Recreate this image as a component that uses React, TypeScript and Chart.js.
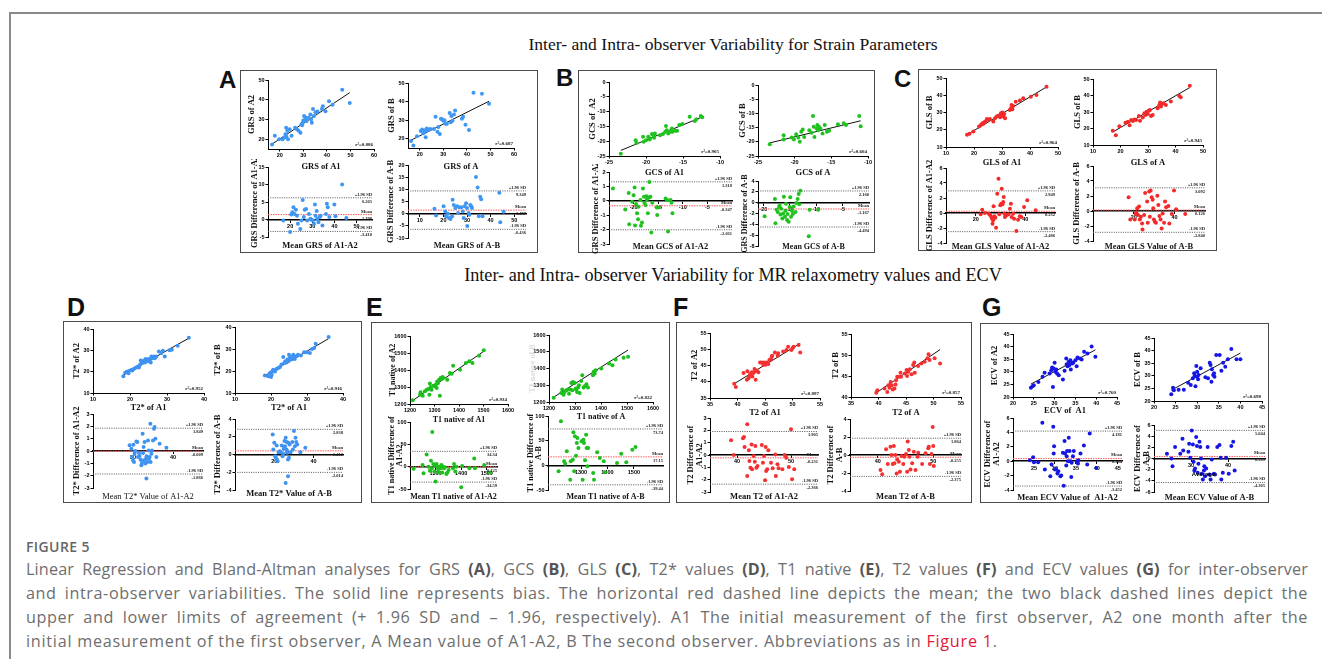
import React, { useEffect, useRef } from "react";
import { Chart, registerables } from "chart.js";
Chart.register(...registerables);

// ---------------- DATA ----------------
// Panel A – GRS
const grsA1A2 = [[16.7,17.3],[17.9,21.7],[19.7,20],[21.2,20],[22,20.8],[22.4,22.5],[22.7,25.8],[23.5,20],[23.2,24.2],[24.2,25],[25,21.7],[26.5,25.8],[27.3,25],[28,24.2],[28.8,23.3],[29.2,27.5],[29.8,28.3],[30.3,31.7],[30.8,30],[31.4,29.2],[32.3,30.8],[33,32.5],[33.3,30],[33.6,28.3],[34.1,35.3],[34.5,31.7],[35.2,33.7],[37.9,35.3],[38.3,36.7],[39.4,34.2],[40.9,39.2],[42.4,37.5],[46.5,45],[49.7,38.3],[29.5,27],[30,29.5],[31,31],[22.8,21.2],[36,34]];
const grsA1A2Fit = [0.79, 4.31];
const grsAB = [[16.3,18.8],[17.3,16.3],[18.8,21.3],[20.4,24.2],[21,25],[21.5,23],[22.2,23.8],[22.5,20.8],[23,25.5],[23.7,24.7],[24.5,25.2],[26,25.2],[26.7,31.8],[27.5,23.8],[27.9,26.3],[28.5,22.5],[29.4,30.5],[30,29.7],[30.9,28],[31.5,28],[32.7,33.8],[33.1,28.8],[33.4,32.2],[33.9,29.7],[34.5,33],[35,35.2],[37.9,30.8],[38.4,31.8],[39.4,27.5],[40.9,24.7],[42.8,44.7],[46.4,44.2],[49.4,38.8],[22.3,24.5],[29,30.8],[30.5,30]];
const grsABFit = [0.634, 8.87];
const grsBA1 = [[16.9,-0.3],[20,-3.6],[20.5,1.4],[21,2.1],[21.5,3.5],[22,1.6],[22.6,2.8],[23.1,1.1],[23.5,-1.2],[24.6,-2.7],[25.1,-0.3],[25.7,5.6],[26.2,0.7],[26.6,2.8],[27.2,3],[27.7,-0.3],[28.5,1.6],[29.2,0.2],[29.7,-0.1],[30.3,-0.3],[30.8,-1.2],[31.2,4.3],[31.5,1.1],[32,2.4],[32.3,0.2],[32.8,-0.8],[33.4,0.7],[33.8,1.1],[34.6,-1.7],[36.2,1.6],[36.6,4.5],[37,3.5],[37.7,0.7],[40,4.3],[40.5,0.9],[43.5,10],[45.4,0.4]];
const grsBA1Lim = ["6.205", "1.398", "-3.410"];
const grsBA2 = [[16.2,2],[16.9,-0.8],[20.1,3],[20.8,0.9],[21.1,-1.1],[22,0],[22.3,-1.8],[23,-2.2],[23.7,-1.1],[23.9,5.7],[24.4,3.6],[25.1,2.3],[25.8,3],[26.2,0.3],[26.8,2.6],[27.6,2.6],[28.2,0.9],[28.6,-1.8],[29,3],[29.6,4.3],[30,2.3],[30.1,-5.1],[30.7,0.3],[31,-0.4],[31.4,3.6],[31.8,3],[32.1,2.3],[33.8,15.1],[34.5,10.8],[35,-1.1],[35.6,7],[36,5.9],[36.6,-1.1],[43.7,8.6],[44.1,-3.5],[45.5,0.8]];
const grsBA2Lim = ["9.349", "1.457", "-6.436"];

// Panel B – GCS
const gcsA1A2 = [[-23.4,-24.2],[-21.4,-19.7],[-21.3,-20.6],[-20.4,-18.5],[-20.3,-20.2],[-20,-19.7],[-19.7,-18.5],[-19.5,-19.1],[-19.5,-19.4],[-19.2,-17.6],[-19,-18],[-18.9,-18.8],[-18.8,-17.4],[-18.1,-18],[-17.7,-17.6],[-17.4,-16.8],[-17.3,-14.9],[-17.2,-16.3],[-17,-17.4],[-16.7,-16.8],[-16.6,-16.3],[-16.5,-15.7],[-16.4,-16.8],[-16,-16.5],[-15.8,-16.5],[-15.5,-14.5],[-15.1,-14.2],[-14.1,-11.7],[-13.4,-13.2],[-13.2,-12.6],[-12.6,-11.5],[-12.4,-11.9]];
const gcsA1A2Fit = [1.027, 0.93];
const gcsAB = [[-23.4,-20.9],[-21.5,-17.7],[-21.5,-19.2],[-20.4,-18.5],[-20.1,-19.2],[-19.8,-17.3],[-19.5,-18.5],[-19.3,-20],[-19.1,-16.5],[-18.9,-15.7],[-18.7,-18.3],[-18,-15.9],[-17.7,-16.8],[-17.5,-10.9],[-17.4,-14.7],[-17.3,-18.3],[-17,-15.3],[-16.9,-14.1],[-16.8,-15.9],[-16.7,-14.7],[-16.5,-15.3],[-16.2,-17.1],[-15.9,-14.1],[-15.6,-16.5],[-15.3,-16.1],[-14.1,-13.8],[-13.3,-13.5],[-13,-14.1],[-11.2,-10.9],[-11,-14.5]];
const gcsABFit = [0.629, -5.68];
const gcsBA1 = [[-24.2,0.85],[-21.7,-0.6],[-21,0.55],[-20.9,-1.63],[-20.3,-0.07],[-20,0.39],[-19.8,0.92],[-19.7,-1.72],[-19.5,-0.23],[-19.3,-0.87],[-19.1,-1.28],[-19,-0.41],[-18.6,0.05],[-18.5,-1.74],[-18.3,-1.51],[-18.1,0.85],[-17.9,0.28],[-17.8,-0.14],[-17.6,-0.3],[-17.4,0.32],[-17.3,0.09],[-17.1,-0.87],[-16.9,0.23],[-16.8,1.31],[-16.6,0.28],[-16.4,-2.2],[-16.2,-0.14],[-15.3,-0.46],[-15.2,-0.99],[-14.9,-0.46],[-13.5,0.16],[-13.2,0.05],[-13,-2.13],[-12.5,0.05],[-12.3,-0.14],[-12.1,-0.87]];
const gcsBA1Lim = ["1.318", "-0.347", "-2.011"];
const gcsBA2 = [[-19.75,-2.5],[-17.8,0.7],[-17.7,-3.8],[-17.5,-1.3],[-17.25,-1.7],[-17,-0.8],[-16.9,-0.5],[-16.75,-2.2],[-16.6,-1.1],[-16.4,-2.9],[-16.25,-2],[-16.1,1.1],[-15.9,-2.6],[-15.8,-1.5],[-15.7,-0.2],[-15.5,-3.2],[-15.4,-2.1],[-15.2,-3.5],[-15,-0.8],[-14.9,1],[-14.75,-2.6],[-14.6,-1.5],[-14.4,-2.1],[-14.25,-0.7],[-13.9,-1.7],[-13.75,-0.06],[-13.5,0.7],[-13.3,1.6],[-13.2,-0.3],[-13,2.2],[-11.4,-6.2],[-11.25,-1.3],[-9.6,-1.3]];
const gcsBA2Lim = ["2.160", "-1.167", "-4.494"];

// Panel C – GLS
const glsA1A2 = [[17.5,17.1],[18.4,17.7],[19.8,19],[21.8,21.9],[22.5,22.9],[23,23.8],[23.4,23.5],[23.7,24.2],[24,24.8],[24.6,26.2],[25.1,25.8],[25.7,26.2],[26.9,24.8],[27.5,26.7],[28.1,27.7],[28.7,28.1],[29.3,27.3],[29.6,29.6],[29.9,28.7],[30.2,30],[30.5,27.7],[30.8,29.2],[31.1,26.7],[32.8,31.5],[33.2,32.5],[33.4,34.4],[33.7,31.9],[34,33.8],[34.9,36.3],[36.4,36.9],[37.6,38.3],[40.3,39.2],[42.3,40.2],[45.9,45]];
const glsA1A2Fit = [0.976, 0.02];
const glsAB = [[17.2,18.6],[18.3,15.9],[19.6,21.4],[21.8,23.5],[22.7,24.1],[23.3,22],[23.9,25.1],[24.5,24.5],[25.1,25.5],[25.7,25.1],[26.7,27.6],[27.1,24.7],[28.1,26.7],[28.7,29.2],[29,28.2],[29.5,30.2],[29.9,28.8],[30.3,30.8],[30.7,31.2],[31.1,27.6],[31.7,28.2],[33.5,32.2],[34.1,34.3],[34.4,35.7],[34.7,33.3],[35.1,34.9],[35.6,35.3],[36.5,34.3],[38.3,36.3],[41.3,39.8],[41.9,39],[45.2,45.9]];
const glsABFit = [0.961, 1.37];
const glsBA1 = [[22,-0.18],[22.6,0.44],[23.7,0],[25.3,-0.09],[25.9,-0.31],[26.3,-0.53],[26.6,-0.76],[26.8,-1.42],[27,-0.98],[27.2,0.89],[27.6,-0.44],[27.9,-0.62],[28.2,-1.96],[28.7,2.58],[29.2,4.58],[29.5,-0.18],[29.9,1.02],[30.3,1.24],[30.5,3.24],[30.8,1.16],[31.1,1.47],[31.3,2.13],[31.6,-0.09],[31.8,-0.53],[32.4,-0.31],[33.2,-0.18],[33.8,0.58],[34.2,1.24],[34.5,-0.53],[35.1,-0.09],[35.5,-0.76],[36.4,-2.4],[37.1,-0.89],[37.8,-0.44],[38.4,-0.53],[39.5,0.8],[40.8,1.69],[44.2,0.36]];
const glsBA1Lim = ["2.949", "0.232", "-2.486"];
const glsBA2 = [[17.5,1.85],[18.3,-1.13],[20.5,-1.13],[21,-0.4],[21.3,-0.23],[21.7,0.36],[22.1,-0.54],[22.6,0.59],[23,-1.13],[23.5,-0.77],[24.1,-1.67],[24.3,-2.48],[25.1,-0.54],[25.6,2.39],[26.6,1.26],[26.9,-1.58],[27.6,2.6],[27.9,-0.77],[28.3,2.75],[28.8,1.85],[29.3,1.49],[29.6,0.36],[29.9,-1.13],[30.4,-1.44],[30.9,-1.58],[31.6,2.03],[32.1,0.81],[32.6,-0.68],[33.2,-1.13],[33.7,-2.34],[34.2,-0.32],[34.9,-1.58],[35.4,1.26],[35.9,0.5],[37,0.68],[37.5,-1.67],[38.7,-0.4],[39.8,2.75],[40.8,0.23],[45.3,-0.4]];
const glsBA2Lim = ["3.092", "0.126", "-2.840"];

// Panel D – T2*
const t2sA1A2 = [[18.2,17.9],[18.7,19.5],[19.1,20],[19.6,19.2],[19.7,20.3],[20.3,20.8],[20.6,20.5],[20.9,21.1],[21.3,21.6],[21.8,22.1],[22.2,22.4],[22.4,21.9],[22.7,23.2],[22.9,25.2],[23.1,24],[23.4,24.3],[23.6,24.8],[23.8,25.2],[24,24.3],[24.2,25.9],[24.5,24.8],[24.7,25.6],[25.1,25.9],[25.4,24.8],[25.6,24.3],[25.8,27.1],[26,26.3],[26.3,26.8],[26.5,27.1],[26.7,26.3],[27.1,27.1],[27.8,29.5],[28.5,28.7],[28.9,29.8],[29.4,27.1],[30.7,30],[31.3,30.3],[32.9,32.2],[35.9,35.9]];
const t2sA1A2Fit = [0.978, 0.6];
const t2sAB = [[18.3,17.9],[19.2,17.6],[19.7,19.1],[20,17.3],[20.2,18.3],[20.3,19.8],[20.6,20.6],[21.1,19.8],[21.5,20.9],[22,21.4],[22.5,21.8],[22.9,22.9],[23.4,26.4],[23.7,23.6],[24,24.4],[24.3,23.9],[24.6,25.2],[24.8,24.4],[25,27.4],[25.2,25.9],[25.5,25.2],[25.7,26.4],[25.9,25.5],[26.2,27.4],[26.4,26.7],[26.6,25.5],[27.1,26.7],[27.5,27.4],[28.3,27],[29.2,28.5],[29.9,28.5],[30.8,28.2],[31.4,30],[32,30.5],[32.4,32.4],[36,35.5]];
const t2sABFit = [0.95, 0.51];
const t2sBA1 = [[18.3,0.46],[19.2,0.19],[19.5,-0.48],[20,-0.75],[20.2,0.51],[20.5,-0.89],[20.8,-0.22],[21.2,0],[21.7,0.78],[22.2,0.73],[22.5,-0.48],[23,-0.16],[23.3,-0.4],[23.8,-0.7],[24.2,-1.16],[24.5,-0.97],[24.8,1.4],[25,-0.16],[25.3,0.32],[25.5,-0.75],[25.8,0.73],[26.2,-1.02],[26.5,-0.62],[26.7,-2.23],[26.8,-0.43],[27.2,-0.89],[27.5,0.86],[27.8,0.05],[28,-0.62],[28.3,-0.48],[28.7,2.2],[28.8,-0.89],[29.2,-0.22],[29.5,0.05],[30,0.86],[30.5,1.8],[30.8,1.94],[31.2,0.99],[31.7,-0.48],[33.3,0.59],[36.7,0.27]];
const t2sBA1Lim = ["1.849", "-0.009", "-1.866"];
const t2sBA2 = [[19.2,2.26],[19.5,0.57],[20,1.32],[20.5,-0.19],[20.8,-0.38],[21.2,1.02],[21.3,-0.57],[21.7,-0.75],[22.2,0.26],[22.8,0.38],[23.3,0.26],[23.8,1.02],[24.2,-0.19],[24.5,0.11],[24.8,0.64],[25.2,1.51],[25.5,0.94],[25.8,1.89],[26.2,0.57],[26.3,1.4],[26.5,0.19],[26.7,0.38],[27,-0.57],[27.2,1.32],[27.5,-0.38],[27.8,1.13],[28.3,0.26],[29.2,1.4],[29.5,0.57],[30,2.64],[30.5,0.94],[30.8,1.89],[31.2,1.4],[31.7,1.13],[33.3,0.26],[35.8,0.75],[25.8,-3.2],[27,-2.45]];
const t2sBA2Lim = ["2.838", "0.412", "-2.014"];

// Panel E – T1 native
const t1A1A2 = [[1211,1222],[1241,1255],[1243,1269],[1252,1249],[1261,1275],[1268,1284],[1275,1288],[1279,1255],[1281,1320],[1284,1300],[1288,1284],[1295,1308],[1302,1304],[1306,1314],[1309,1294],[1311,1333],[1315,1324],[1319,1343],[1322,1249],[1325,1353],[1329,1347],[1333,1359],[1336,1353],[1352,1343],[1363,1382],[1370,1378],[1376,1425],[1404,1402],[1428,1441],[1442,1451],[1455,1441],[1482,1484],[1501,1516]];
const t1A1A2Fit = [1.0, 9];
const t1AB = [[1218,1226],[1247,1254],[1251,1274],[1256,1244],[1260,1260],[1267,1270],[1273,1274],[1277,1250],[1282,1274],[1286,1314],[1290,1270],[1292,1320],[1299,1314],[1303,1280],[1305,1274],[1308,1260],[1312,1286],[1315,1300],[1318,1254],[1324,1326],[1328,1360],[1333,1286],[1337,1294],[1344,1306],[1350,1286],[1369,1360],[1372,1380],[1376,1370],[1379,1390],[1401,1400],[1431,1430],[1444,1420],[1456,1454],[1487,1464],[1504,1470]];
const t1ABFit = [0.983, 31.7];
const t1BA1 = [[1214,-4.4],[1249,3.7],[1253,-14.8],[1265,27.4],[1272,0],[1278,-8.9],[1282,13.3],[1285,-3.7],[1287,77.8],[1291,5.9],[1295,-11.1],[1297,3.7],[1300,-33.3],[1304,5.9],[1308,0],[1310,-5.9],[1313,-13.3],[1317,0],[1320,-3.7],[1323,3.7],[1326,-13.3],[1329,0],[1333,-3.7],[1336,-1.5],[1342,-16.3],[1346,-13.3],[1351,-7.4],[1368,-3.7],[1372,5.9],[1377,-11.1],[1381,0],[1400,-45.9],[1404,1.5],[1432,-3.7],[1451,18.5],[1454,-3.7],[1490,3.7],[1513,-13.3]];
const t1BA1Lim = ["34.34", "-0.125", "-34.59"];
const t1BA2 = [[1215,-12.2],[1224,89.2],[1236,8.1],[1240,3.4],[1246,28.4],[1259,-29.1],[1261,8.1],[1269,11.5],[1271,66.9],[1274,-12.2],[1277,58.8],[1281,19.6],[1284,45.3],[1286,55.4],[1290,35.1],[1302,48.6],[1306,-29.1],[1309,52],[1311,45.3],[1315,10.1],[1319,62.2],[1321,35.1],[1324,-2],[1327,35.1],[1346,-15.5],[1349,-29.1],[1361,26.4],[1371,14.9],[1386,8.1],[1390,-14.2],[1436,4.7],[1452,23.6],[1471,6.1],[1494,31.8],[1506,37.2]];
const t1BA2Lim = ["73.74", "17.15", "-39.44"];

// Panel F – T2
const t2A1A2 = [[39.4,39.4],[39.7,38.4],[41.1,42.7],[41.7,40.6],[41.8,43.2],[42,41.1],[42.1,41.6],[42.3,42.4],[42.6,42.9],[42.7,41.6],[42.9,42.7],[43.1,43.9],[43.2,43.2],[43.3,40.6],[43.5,43.5],[43.8,42.9],[44.1,45.9],[44.4,45.9],[44.7,45.2],[44.9,45.9],[45.1,45.2],[45.3,45.9],[45.6,45.5],[45.8,46.7],[46.1,46.9],[46.2,47.6],[46.3,48],[46.8,49],[47.3,48],[47.4,48.8],[48.3,49.3],[48.9,49.8],[49.2,50.8],[49.8,49.8],[50,50.3],[50.2,50.8],[51.1,51.3],[51.4,49]];
const t2A1A2Fit = [1.033, -1.3];
const t2AB = [[39.6,41],[39.8,41.6],[41.1,42],[41.6,41.2],[41.8,42.8],[42,42.2],[42.2,43.6],[42.4,42.8],[42.6,41.8],[42.9,42],[43.1,43],[43.2,44],[43.4,44.8],[43.7,44.8],[44,45.8],[44.1,44.8],[44.8,45.6],[45.1,46.4],[45.2,45],[45.4,46],[45.7,46.6],[46,45.4],[46.3,47.6],[46.5,48.2],[46.6,45.8],[47.2,47.4],[47.8,48],[48.4,48.4],[48.9,49.2],[49.1,50.2],[49.3,48.8],[50.2,49.2],[51.2,48]];
const t2ABFit = [0.887, 5.88];
const t2BA1 = [[38.9,1.19],[39.4,0],[41.1,1.35],[41.3,1.46],[41.4,0.65],[41.9,2.49],[41.9,-1.7],[42.2,0.38],[42.3,-0.49],[42.5,-1.03],[42.7,0.86],[42.8,-1.16],[43.1,-0.08],[43.3,-0.54],[43.4,0.73],[43.6,-1.03],[43.8,-0.89],[44.6,0.81],[44.8,-0.62],[45,-0.08],[45.2,-2.05],[45.3,0.65],[45.4,-1.3],[45.6,-1.16],[45.8,0.38],[46.3,-0.62],[46.6,-1.08],[47.1,0.05],[47.2,-1.7],[47.5,-0.76],[47.7,-1.08],[48.4,-1.16],[48.8,0],[49.1,-0.22],[49.6,-0.97],[50,2.08],[50.2,-1.97],[50.6,-1.16]];
const t2BA1Lim = ["1.905", "-0.231", "-2.366"];
const t2BA2 = [[40.5,-1.68],[40.8,-2.13],[41.5,0.63],[41.8,-1.01],[42.3,0.93],[42.5,0],[42.7,-1.01],[42.9,1.01],[43,-0.93],[43.2,0],[43.4,-2.05],[43.5,-0.49],[43.8,-0.75],[44,-1.87],[44.3,-0.11],[44.6,-1.01],[44.8,-0.19],[45.1,0.11],[45.3,-1.87],[45.4,1.49],[45.6,0.56],[45.7,-0.19],[45.9,-1.6],[46.2,-0.93],[46.5,0.37],[46.8,-1.68],[47.2,-0.19],[47.3,0.26],[48,-1.01],[48.6,0.19],[49.1,0.75],[49.2,0.93],[49.4,-1.01],[49.7,0.11],[49.9,3.1],[50,1.01],[50.1,-1.23]];
const t2BA2Lim = ["1.864", "-0.255", "-2.375"];

// Panel G – ECV
const ecvA1A2 = [[24.3,23.7],[24.7,24.3],[25,24.7],[26.1,26],[27.1,28],[27.6,29.6],[28.8,29.3],[29.2,30.6],[29.4,31.7],[29.6,24],[29.8,31.3],[30,33.6],[30.2,30],[30.4,30.9],[30.6,29.3],[31,28.6],[32,26.9],[32.4,30.4],[32.8,35.3],[32.9,33],[33.1,32.2],[33.4,34],[33.5,32.6],[33.8,34.6],[33.9,30.9],[34.2,33.3],[34.5,33.6],[35,34.6],[35.3,32.2],[35.5,35.7],[36.1,35.3],[36.5,34.9],[37.1,38],[37.9,37.3],[38.9,40],[39.8,36]];
const ecvA1A2Fit = [0.877, 3.8];
const ecvAB = [[24,22.7],[24.4,25.3],[24.6,24.3],[25.7,24.5],[26.9,24.5],[27.9,27.2],[28.5,26.3],[29,29],[29.3,31],[29.4,29.9],[29.6,25.9],[29.8,33.9],[30,31.6],[30,29.6],[30.2,28.6],[30.3,30.3],[30.8,33],[31.9,29.4],[32.5,29],[32.9,35.2],[33.1,34.3],[33.3,27.6],[33.4,32.6],[33.7,30.3],[33.9,31],[34,29.6],[34.4,38.3],[35.2,38.3],[35.6,32],[36,35.2],[36.5,33.6],[37.1,36.6],[37.9,40.6],[39.1,36.6],[40,36.6]];
const ecvABFit = [0.919, 2.25];
const ecvBA1 = [[24,0.14],[24.8,0.56],[25,-0.14],[26,-0.14],[27,5.35],[27.6,-1.16],[28.9,-2.09],[29.2,-0.47],[29.6,4.79],[29.7,1.07],[29.8,2.09],[30,-1.16],[30.2,-1.07],[30.6,-1.72],[30.8,-1.4],[31.3,-2.09],[31.5,-2],[31.9,1.16],[32.1,-3.4],[32.3,2.79],[32.4,1.07],[32.7,-0.6],[32.8,0.7],[32.9,1.4],[33.1,0],[33.3,3.26],[33.5,1.4],[33.7,0],[33.9,-2.19],[34,-0.23],[34.3,0.7],[34.5,1.4],[35.3,0],[35.5,-0.33],[35.6,0.14],[36.1,1.07],[36.9,2.19],[37.7,-0.47],[38.3,3.86],[39.9,-0.93]];
const ecvBA1Lim = ["4.181", "0.364", "-3.452"];
const ecvBA2 = [[23.5,0.84],[24.7,0],[25,-1.38],[25.7,2.04],[27.1,0.84],[27.7,3.53],[27.9,1.44],[29.3,1.2],[29.5,2.63],[29.8,0.12],[30.2,5.03],[30.5,2.51],[30.7,-0.6],[30.9,-2.16],[31.1,-1.8],[31.4,3.83],[31.6,2.22],[31.8,-2.57],[32,-0.96],[32.3,2.99],[32.5,2.04],[32.7,0],[32.9,-2.75],[33.2,-3.77],[33.5,-2.16],[33.6,-1.38],[33.8,-3.17],[34.1,-1.8],[34.5,2.04],[35,-2.87],[35.3,-3.77],[35.6,-0.18],[36.2,-2.75],[36.5,-2.87],[37.1,2.04],[37.7,2.4],[38,0.12],[38.2,-3.77],[38.6,-2.57],[39.5,0.12],[40.2,-2.75],[40.9,2.22],[41.4,2.99],[41.8,-2.16]];
const ecvBA2Lim = ["5.044", "0.369", "-4.305"];
const ecvNote = [33.4, -2.75];

// ---------------- STYLE / LAYOUT ----------------
const SERIF = '"Liberation Serif", "Times New Roman", serif';
const SANS = '"Liberation Sans", Arial, sans-serif';
const C_A = "#3f97f2";
const C_B = "#1fc21f";
const C_C = "#f42a2a";
const C_D = "#3f92f0";
const C_E = "#1cc01c";
const C_F = "#f43030";
const C_G = "#1616e4";

type Spec = {
  id: string; kind: "reg" | "ba"; pts: number[][]; color: string;
  rect: number[]; xr: number[]; yr: number[]; xt: number[]; yt: number[];
  yTitle: string[]; yTitleX: number; xTitle: string; xTitleY: number;
  fit?: number[]; r2?: string; lim?: string[]; fs?: number; xWeight?: string;
  yTitleColor?: string; note?: number[];
};

const specs: Spec[] = [
  // A
  { id: "a1", kind: "reg", pts: grsA1A2, color: C_A, rect: [268, 80, 374, 149], xr: [15, 60], yr: [15, 50], xt: [20, 30, 40, 50, 60], yt: [20, 30, 40, 50], yTitle: ["GRS of A2"], yTitleX: 252, xTitle: "GRS of A1", xTitleY: 167, fit: grsA1A2Fit, r2: "0.886", fs: 8.5 },
  { id: "a2", kind: "reg", pts: grsAB, color: C_A, rect: [408, 83, 514, 148], xr: [15, 60], yr: [15, 50], xt: [20, 30, 40, 50, 60], yt: [20, 30, 40, 50], yTitle: ["GRS of B"], yTitleX: 392, xTitle: "GRS of A", xTitleY: 167, fit: grsABFit, r2: "0.687", fs: 8.5 },
  { id: "a3", kind: "ba", pts: grsBA1, color: C_A, rect: [268, 167, 372, 237], xr: [10, 57], yr: [-5, 15], xt: [20, 30, 40, 50], yt: [-5, 0, 5, 10, 15], yTitle: ["GRS Difference of A1-A2"], yTitleX: 255, xTitle: "Mean GRS of A1-A2", xTitleY: 246, lim: grsBA1Lim, fs: 8.5 },
  { id: "a4", kind: "ba", pts: grsBA2, color: C_A, rect: [408, 165, 526, 238], xr: [5, 55], yr: [-10, 20], xt: [10, 20, 30, 40, 50], yt: [-10, -5, 0, 5, 10, 15, 20], yTitle: ["GRS Difference of A-B"], yTitleX: 391, xTitle: "Mean GRS of A-B", xTitleY: 246, lim: grsBA2Lim, fs: 8.5 },
  // B
  { id: "b1", kind: "reg", pts: gcsA1A2, color: C_B, rect: [609, 82, 720, 156], xr: [-25, -10], yr: [-25, 0], xt: [-25, -20, -15, -10], yt: [-25, -20, -15, -10, -5, 0], yTitle: ["GCS of  A2"], yTitleX: 593, xTitle: "GCS of A1", xTitleY: 173, fit: gcsA1A2Fit, r2: "0.905", fs: 8.5 },
  { id: "b2", kind: "reg", pts: gcsAB, color: C_B, rect: [758, 85, 868, 156], xr: [-25, -10], yr: [-25, 0], xt: [-25, -20, -15, -10], yt: [-25, -20, -15, -10, -5, 0], yTitle: ["GCS of B"], yTitleX: 743, xTitle: "GCS of A", xTitleY: 173, fit: gcsABFit, r2: "0.604", fs: 8.5 },
  { id: "b3", kind: "ba", pts: gcsBA1, color: C_B, rect: [609, 172, 732, 244], xr: [-25, 0], yr: [-3, 2], xt: [-20, -15, -10, -5], yt: [-3, -2, -1, 0, 1, 2], yTitle: ["GRS Difference of A1-A2"], yTitleX: 596, xTitle: "Mean GCS of A1-A2", xTitleY: 247, lim: gcsBA1Lim, fs: 8.5 },
  { id: "b4", kind: "ba", pts: gcsBA2, color: C_B, rect: [758, 181, 869, 246], xr: [-21, 0], yr: [-8, 4], xt: [-20, -15, -10, -5], yt: [-8, -6, -4, -2, 0, 2, 4], yTitle: ["GRS Difference of A-B"], yTitleX: 745, xTitle: "Mean GCS of A-B", xTitleY: 247, lim: gcsBA2Lim, fs: 8 },
  // C
  { id: "c1", kind: "reg", pts: glsA1A2, color: C_C, rect: [946, 78, 1058, 147], xr: [10, 50], yr: [10, 50], xt: [10, 20, 30, 40, 50], yt: [10, 20, 30, 40, 50], yTitle: ["GLS of B"], yTitleX: 930, xTitle: "GLS of A1", xTitleY: 163, fit: glsA1A2Fit, r2: "0.964", fs: 8.5 },
  { id: "c2", kind: "reg", pts: glsAB, color: C_C, rect: [1093, 79, 1203, 145], xr: [10, 50], yr: [10, 50], xt: [10, 20, 30, 40, 50], yt: [10, 20, 30, 40, 50], yTitle: ["GLS of B"], yTitleX: 1078, xTitle: "GLS of A", xTitleY: 163, fit: glsABFit, r2: "0.945", fs: 8.5 },
  { id: "c3", kind: "ba", pts: glsBA1, color: C_C, rect: [946, 168, 1055, 243], xr: [8, 52], yr: [-4, 6], xt: [20, 40], yt: [-4, -2, 0, 2, 4, 6], yTitle: ["GLS Difference of A1-A2"], yTitleX: 930, xTitle: "Mean GLS Value of A1-A2", xTitleY: 247, lim: glsBA1Lim, fs: 8.5 },
  { id: "c4", kind: "ba", pts: glsBA2, color: C_C, rect: [1093, 166, 1205, 241], xr: [0, 55], yr: [-4, 6], xt: [20, 40], yt: [-4, -2, 0, 2, 4, 6], yTitle: ["GLS Difference of A-B"], yTitleX: 1077, xTitle: "Mean GLS Value of A-B", xTitleY: 247, lim: glsBA2Lim, fs: 8.5 },
  // D
  { id: "d1", kind: "reg", pts: t2sA1A2, color: C_D, rect: [93, 329, 204, 393], xr: [10, 40], yr: [10, 40], xt: [10, 20, 30, 40], yt: [10, 20, 30, 40], yTitle: ["T2* of A2"], yTitleX: 77, xTitle: "T2* of A1", xTitleY: 408, fit: t2sA1A2Fit, r2: "0.952", fs: 8.5 },
  { id: "d2", kind: "reg", pts: t2sAB, color: C_D, rect: [235, 327, 343, 393], xr: [10, 40], yr: [10, 40], xt: [10, 20, 30, 40], yt: [10, 20, 30, 40], yTitle: ["T2* of B"], yTitleX: 218, xTitle: "T2* of A1", xTitleY: 408, fit: t2sABFit, r2: "0.916", fs: 8.5 },
  { id: "d3", kind: "ba", pts: t2sBA1, color: C_D, rect: [93, 414, 203, 488], xr: [0, 55], yr: [-3, 3], xt: [20, 40], yt: [-3, -2, -1, 0, 1, 2, 3], yTitle: ["T2* Difference of A1-A2"], yTitleX: 77, xTitle: "Mean T2* Value of A1-A2", xTitleY: 497, lim: t2sBA1Lim, fs: 8.5, xWeight: "normal" },
  { id: "d4", kind: "ba", pts: t2sBA2, color: C_D, rect: [235, 419, 343, 490], xr: [0, 55], yr: [-4, 4], xt: [20, 40], yt: [-4, -2, 0, 2, 4], yTitle: ["T2* Difference of A-B"], yTitleX: 218, xTitle: "Mean T2* Value of A-B", xTitleY: 494, lim: t2sBA2Lim, fs: 8.5 },
  // E
  { id: "e1", kind: "reg", pts: t1A1A2, color: C_E, rect: [410, 336, 508, 404], xr: [1200, 1600], yr: [1200, 1600], xt: [1200, 1300, 1400, 1500, 1600], yt: [1200, 1300, 1400, 1500, 1600], yTitle: ["T1 native of A2"], yTitleX: 393, xTitle: "T1 native of A1", xTitleY: 420, fit: t1A1A2Fit, r2: "0.934", fs: 8 },
  { id: "e2", kind: "reg", pts: t1AB, color: C_E, rect: [549, 335, 653, 402], xr: [1200, 1600], yr: [1200, 1600], xt: [1200, 1300, 1400, 1500, 1600], yt: [1200, 1300, 1400, 1500, 1600], yTitle: ["T1 native of B"], yTitleX: 533, yTitleColor: "#dcdcdc", xTitle: "T1 native of A", xTitleY: 417, fit: t1ABFit, r2: "0.822", fs: 8 },
  { id: "e3", kind: "ba", pts: t1BA1, color: C_E, rect: [410, 422, 497, 489], xr: [1200, 1540], yr: [-50, 100], xt: [1300, 1400, 1500], yt: [-50, 0, 50, 100], yTitle: ["T1 native Difference of", "A1-A2"], yTitleX: 396, xTitle: "Mean T1 native of A1-A2", xTitleY: 497, lim: t1BA1Lim, fs: 8 },
  { id: "e4", kind: "ba", pts: t1BA2, color: C_E, rect: [548, 416, 663, 490], xr: [1175, 1610], yr: [-50, 100], xt: [1300, 1400, 1500], yt: [-50, 0, 50, 100], yTitle: ["T1 native Difference of", "A-B"], yTitleX: 535, xTitle: "Mean T1 native of A-B", xTitleY: 497, lim: t1BA2Lim, fs: 8 },
  // F
  { id: "f1", kind: "reg", pts: t2A1A2, color: C_F, rect: [710, 333, 820, 398], xr: [35, 55], yr: [35, 55], xt: [35, 40, 45, 50, 55], yt: [35, 40, 45, 50, 55], yTitle: ["T2 of A2"], yTitleX: 695, xTitle: "T2 of A1", xTitleY: 413, fit: t2A1A2Fit, r2: "0.897", fs: 8.5 },
  { id: "f2", kind: "reg", pts: t2AB, color: C_F, rect: [851, 334, 961, 397], xr: [35, 55], yr: [40, 55], xt: [35, 40, 45, 50, 55], yt: [40, 45, 50, 55], yTitle: ["T2 of B"], yTitleX: 836, xTitle: "T2 of A", xTitleY: 413, fit: t2ABFit, r2: "0.857", fs: 8.5 },
  { id: "f3", kind: "ba", pts: t2BA1, color: C_F, rect: [710, 418, 818, 492], xr: [35, 55], yr: [-3, 3], xt: [40, 50], yt: [-3, -2, -1, 0, 1, 2, 3], yTitle: ["T2 Difference of", "A1-A2"], yTitleX: 695, xTitle: "Mean T2 of A1-A2", xTitleY: 497, lim: t2BA1Lim, fs: 8.5 },
  { id: "f4", kind: "ba", pts: t2BA2, color: C_F, rect: [850, 419, 961, 491], xr: [35, 55], yr: [-4, 4], xt: [40, 50], yt: [-4, -2, 0, 2, 4], yTitle: ["T2 Difference of", "A-B"], yTitleX: 835, xTitle: "Mean T2 of A-B", xTitleY: 497, lim: t2BA2Lim, fs: 8.5 },
  // G
  { id: "g1", kind: "reg", pts: ecvA1A2, color: C_G, rect: [1013, 334, 1117, 397], xr: [20, 45], yr: [20, 45], xt: [20, 25, 30, 35, 40, 45], yt: [20, 25, 30, 35, 40, 45], yTitle: ["ECV of A2"], yTitleX: 995, xTitle: "ECV of  A1", xTitleY: 411, fit: ecvA1A2Fit, r2: "0.760", fs: 8.5 },
  { id: "g2", kind: "reg", pts: ecvAB, color: C_G, rect: [1154, 338, 1262, 401], xr: [20, 45], yr: [20, 45], xt: [20, 25, 30, 35, 40, 45], yt: [20, 25, 30, 35, 40, 45], yTitle: ["ECV of B"], yTitleX: 1138, xTitle: "", xTitleY: 0, fit: ecvABFit, r2: "0.698", fs: 8.5 },
  { id: "g3", kind: "ba", pts: ecvBA1, color: C_G, rect: [1013, 418, 1122, 490], xr: [20, 46], yr: [-4, 6], xt: [25, 30, 35, 40, 45], yt: [-4, -2, 0, 2, 4, 6], yTitle: ["ECV Difference of", "A1-A2"], yTitleX: 992, xTitle: "Mean ECV Value of  A1-A2", xTitleY: 498, lim: ecvBA1Lim, fs: 8.5 },
  { id: "g4", kind: "ba", pts: ecvBA2, color: C_G, rect: [1154, 425, 1265, 492], xr: [20, 50], yr: [-6, 6], xt: [30, 40], yt: [-6, -4, -2, 0, 2, 4, 6], yTitle: ["ECV Difference of", "A-B"], yTitleX: 1142, xTitle: "Mean ECV Value of A-B", xTitleY: 498, lim: ecvBA2Lim, fs: 8.5, note: ecvNote },
];

const boxes = [
  { l: 240, t: 70, r: 538, b: 253 },
  { l: 578, t: 70, r: 875, b: 253 },
  { l: 918, t: 69, r: 1217, b: 251 },
  { l: 63, t: 321, r: 362, b: 503 },
  { l: 371, t: 322, r: 670, b: 503 },
  { l: 676, t: 322, r: 972, b: 503 },
  { l: 980, t: 323, r: 1269, b: 503 },
];
const letters = [
  { s: "A", x: 219, y: 68, f: 24 }, { s: "B", x: 556, y: 66, f: 24 }, { s: "C", x: 894, y: 67, f: 24 },
  { s: "D", x: 67, y: 295, f: 25 }, { s: "E", x: 366, y: 295, f: 25 }, { s: "F", x: 673, y: 295, f: 25 }, { s: "G", x: 982, y: 295, f: 25 },
];

function textPlugin(s: Spec, cl: number, ct: number) {
  return {
    id: "txt_" + s.id,
    afterDraw(chart: any) {
      const ctx = chart.ctx;
      const ca = chart.chartArea;
      const fs = s.fs || 8.5;
      ctx.save();
      ctx.fillStyle = s.yTitleColor || "#111";
      ctx.font = `bold ${fs}px ${SERIF}`;
      ctx.textAlign = "center";
      ctx.textBaseline = "middle";
      ctx.save();
      ctx.translate(s.yTitleX - cl, (ca.top + ca.bottom) / 2);
      ctx.rotate(-Math.PI / 2);
      const n = s.yTitle.length;
      s.yTitle.forEach((ln, i) => ctx.fillText(ln, 0, (i - (n - 1) / 2) * fs * 1.1));
      ctx.restore();
      if (s.xTitle) {
        ctx.fillStyle = "#111";
        ctx.font = `${s.xWeight || "bold"} ${fs}px ${SERIF}`;
        ctx.fillText(s.xTitle, (ca.left + ca.right) / 2, s.xTitleY - ct);
      }
      if (s.r2) {
        ctx.font = `bold 5px ${SERIF}`;
        ctx.textAlign = "right";
        ctx.textBaseline = "bottom";
        ctx.fillStyle = "#111";
        ctx.fillText("r²=" + s.r2, ca.right - 1, ca.bottom - 1.5);
      }
      if (s.lim) {
        const ys = chart.scales.y;
        const names = ["+1.96 SD", "Mean", "-1.96 SD"];
        ctx.font = `bold 4.5px ${SERIF}`;
        ctx.textAlign = "right";
        ctx.fillStyle = "#222";
        s.lim.forEach((v, i) => {
          const py = ys.getPixelForValue(Number(v));
          ctx.textBaseline = "bottom";
          ctx.fillText(names[i], ca.right, py - 1);
          ctx.textBaseline = "top";
          ctx.fillText(v, ca.right, py + 1.5);
        });
      }
      if (s.note) {
        ctx.font = `bold 6px ${SANS}`;
        ctx.textAlign = "center";
        ctx.textBaseline = "middle";
        ctx.fillStyle = "#000";
        ctx.fillText("Average", chart.scales.x.getPixelForValue(s.note[0]), chart.scales.y.getPixelForValue(s.note[1]));
      }
      ctx.restore();
    },
  };
}

function SubChart({ s }: { s: Spec }) {
  const ref = useRef<HTMLCanvasElement>(null);
  const [l, t, r, b] = s.rect;
  const cl = l - 42, ct = t - 8, cr = r + 8;
  const cb = Math.max(b + 14, s.xTitleY + 8);
  const W = cr - cl, H = cb - ct;
  useEffect(() => {
    const tickFont = { family: SANS, size: 5.5, weight: "bold" as const };
    const datasets: any[] = [{
      type: "scatter", data: s.pts.map(([x, y]) => ({ x, y })), pointRadius: 2, pointHoverRadius: 2,
      backgroundColor: s.color, borderWidth: 0, order: 0, clip: 6,
    }];
    if (s.fit) {
      const xs = s.pts.map((p) => p[0]);
      const x0 = Math.min(...xs), x1 = Math.max(...xs);
      const [m, c] = s.fit;
      datasets.push({ type: "line", data: [{ x: x0, y: m * x0 + c }, { x: x1, y: m * x1 + c }], borderColor: "#111", borderWidth: 1, pointRadius: 0, order: 1 });
    }
    if (s.lim) {
      s.lim.forEach((v, i) => {
        const y = Number(v);
        datasets.push({
          type: "line", data: [{ x: s.xr[0], y }, { x: s.xr[1], y }],
          borderColor: i === 1 ? "#ff5c5c" : "#555", borderWidth: 1,
          borderDash: i === 1 ? [1.5, 1] : [1, 1.3], pointRadius: 0, order: 2,
        });
      });
    }
    const zeroPad = (sc: any) => { sc.paddingLeft = 0; sc.paddingRight = 0; sc.paddingTop = 0; sc.paddingBottom = 0; };
    const common = {
      type: "linear",
      grid: { drawOnChartArea: false, drawTicks: true, tickLength: 2.5, color: "#000", lineWidth: 1 },
      ticks: { font: tickFont, color: "#000", padding: 1, maxRotation: 0, autoSkip: false, callback: (v: any) => String(v) },
    };
    const chart = new Chart(ref.current as HTMLCanvasElement, {
      type: "scatter",
      data: { datasets },
      options: {
        animation: false,
        responsive: false,
        events: [],
        layout: { padding: { left: 0, top: t - ct, right: cr - r, bottom: s.kind === "ba" ? cb - b : 0 } },
        plugins: { legend: { display: false }, tooltip: { enabled: false }, title: { display: false } },
        scales: {
          x: {
            ...common,
            min: s.xr[0], max: s.xr[1],
            position: s.kind === "ba" ? { y: 0 } : "bottom",
            border: { display: true, color: "#000", width: s.kind === "ba" ? 1.5 : 1 },
            afterBuildTicks: (sc: any) => { sc.ticks = s.xt.map((v) => ({ value: v })); },
            afterFit: (sc: any) => { zeroPad(sc); if (s.kind === "reg") sc.height = cb - b; },
          },
          y: {
            ...common,
            min: s.yr[0], max: s.yr[1],
            position: "left",
            border: { display: true, color: "#000", width: 1 },
            afterBuildTicks: (sc: any) => { sc.ticks = s.yt.map((v) => ({ value: v })); },
            afterFit: (sc: any) => { zeroPad(sc); sc.width = l - cl; },
          },
        },
      } as any,
      plugins: [textPlugin(s, cl, ct)],
    } as any);
    return () => chart.destroy();
  }, []);
  return (
    <canvas ref={ref} width={W} height={H}
      style={{ position: "absolute", left: cl, top: ct, width: W, height: H }} />
  );
}

const capLines = [
  ["Linear Regression and Bland-Altman analyses for GRS ", "(A)", ", GCS ", "(B)", ", GLS ", "(C)", ", T2* values ", "(D)", ", T1 native ", "(E)", ", T2 values ", "(F)", " and ECV values ", "(G)", " for inter\u2011observer"],
  ["and intra-observer variabilities. The solid line represents bias. The horizontal red dashed line depicts the mean; the two black dashed lines depict the"],
  ["upper and lower limits of agreement (+ 1.96 SD and \u2013 1.96, respectively). A1 The initial measurement of the first observer, A2 one month after the"],
];
const capSpacing = ["0.15px", "0.6px", "0.6px"];
const capStyle = { fontSize: 16.2, lineHeight: "24px", letterSpacing: "0.75px" };

export default function App() {
  return (
    <div style={{ position: "absolute", left: 0, top: 0, width: 1322, height: 659, overflow: "hidden", background: "#fff" }}>
      <div style={{ position: "absolute", left: 9, top: 12, width: 1320, height: 660, borderTop: "2px solid #8a8a8a", borderLeft: "2px solid #8a8a8a" }} />
      <div style={{ position: "absolute", left: 733, top: 34, transform: "translateX(-50%)", whiteSpace: "nowrap", fontFamily: SERIF, fontSize: 17.6, lineHeight: "20px", color: "#111" }}>
        Inter- and Intra- observer Variability for Strain Parameters
      </div>
      <div style={{ position: "absolute", left: 733, top: 265, transform: "translateX(-50%)", whiteSpace: "nowrap", fontFamily: SERIF, fontSize: 18.2, lineHeight: "20px", color: "#111" }}>
        Inter- and Intra- observer Variability for MR relaxometry values and ECV
      </div>
      {boxes.map((bx, i) => (
        <div key={i} style={{ position: "absolute", left: bx.l, top: bx.t, width: bx.r - bx.l, height: bx.b - bx.t, border: "1.5px solid #4a4a4a", boxSizing: "border-box" }} />
      ))}
      {letters.map((lt) => (
        <div key={lt.s} style={{ position: "absolute", left: lt.x, top: lt.y, fontFamily: SANS, fontWeight: "bold", fontSize: lt.f, lineHeight: `${lt.f}px`, color: "#111" }}>{lt.s}</div>
      ))}
      {specs.map((s) => <SubChart key={s.id} s={s} />)}
      <div style={{ position: "absolute", left: 26, top: 537, width: 1282, fontFamily: '"Open Sans", "Noto Sans", sans-serif', color: "#6e6e6e" }}>
        <div style={{ fontSize: 14, fontWeight: 600, lineHeight: "20px", color: "#666", letterSpacing: "0.4px" }}>FIGURE 5</div>
        {capLines.map((parts, i) => (
          <div key={i} style={{ ...capStyle, letterSpacing: capSpacing[i], textAlign: "justify", textAlignLast: "justify" as any, height: 24, overflow: "hidden" }}>
            {parts.map((p, j) => (p.startsWith("(") ? <b key={j} style={{ color: "#555" }}>{p}</b> : <span key={j}>{p}</span>))}
          </div>
        ))}
        <div style={capStyle}>
          initial measurement of the first observer, A Mean value of A1-A2, B The second observer. Abbreviations as in <span style={{ color: "#e0173c" }}>Figure 1</span>.
        </div>
      </div>
    </div>
  );
}
